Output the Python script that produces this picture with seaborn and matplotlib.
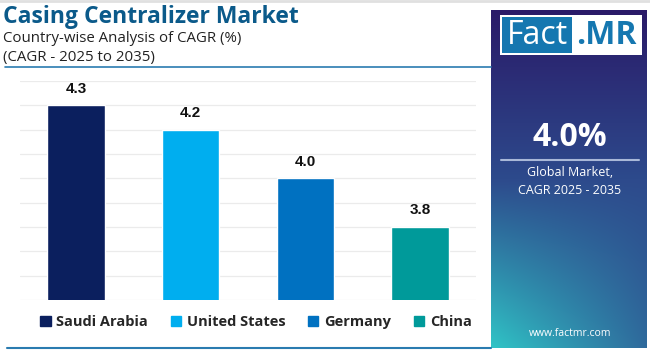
import numpy as np
import matplotlib
matplotlib.use("Agg")
import matplotlib.pyplot as plt
import seaborn as sns
from matplotlib.patches import Rectangle
from matplotlib.lines import Line2D
from matplotlib.colors import to_rgb

countries = ["Saudi Arabia", "United States", "Germany", "China"]
cagr = [4.3, 4.2, 4.0, 3.8]
bar_colors = ["#0b1f5e", "#00aeef", "#0071c1", "#009a9a"]
title = "Casing Centralizer Market"
subtitle1 = "Country-wise Analysis of CAGR (%)"
subtitle2 = "(CAGR - 2025 to 2035)"
global_value = "4.0%"
global_label = "Global Market,\nCAGR 2025 - 2035"
website = "www.factmr.com"

sns.set_theme(style="white")
plt.rcParams["font.family"] = ["Open Sans", "DejaVu Sans"]

W, H = 650, 350
fig = plt.figure(figsize=(6.5, 3.5), dpi=100)
fig.patch.set_facecolor("white")

def fx(px):
    return px / W

def fy(py):
    return 1 - py / H

# main axes
ax = fig.add_axes([fx(20), fy(300), fx(476) - fx(20), fy(81) - fy(300)])
sns.barplot(x=countries, y=cagr, hue=countries, palette=bar_colors, width=0.5,
            legend=False, ax=ax, saturation=1)
ax.set_ylim(3.5, 4.4)
ax.set_xlim(-0.49, 3.49)
ax.set_yticks(np.arange(3.5, 4.41, 0.1))
ax.yaxis.grid(True, color="#ebebeb", linewidth=0.9)
ax.set_axisbelow(True)
for s in ax.spines.values():
    s.set_visible(False)
ax.set_xticks([])
ax.set_yticklabels([])
ax.tick_params(left=False, bottom=False)
ax.set_xlabel("")
ax.set_ylabel("")
for i, v in enumerate(cagr):
    ax.annotate(f"{v:.1f}", (i, v), xytext=(0, 7), textcoords="offset points",
                ha="center", va="bottom", fontsize=11, fontweight="bold", color="#111111",
                family=["Liberation Sans", "DejaVu Sans"])

# titles
fig.text(fx(3), fy(17), title, fontsize=16.5, fontweight="bold", color="#0b5a8a",
         ha="left", va="center")
fig.text(fx(3), fy(38), subtitle1, fontsize=10.8, color="#222222", ha="left", va="center")
fig.text(fx(3), fy(57), subtitle2, fontsize=10.8, color="#222222", ha="left", va="center")
fig.add_artist(Line2D([fx(5), fx(491)], [fy(67), fy(67)], color="#2a7bb0", linewidth=1.2))
fig.add_artist(Line2D([fx(7), fx(491)], [fy(348), fy(348)], color="#2a7bb0", linewidth=1.5))
fig.add_artist(Line2D([0, 1], [fy(1), fy(1)], color="#e0e0e0", linewidth=2))

# legend
handles = [Rectangle((0, 0), 1, 1, color=c) for c in bar_colors]
leg = fig.legend(handles, countries, loc="center", bbox_to_anchor=(fx(256), fy(322)),
                 ncol=4, frameon=False, handlelength=0.7, handleheight=0.7,
                 handletextpad=0.4, columnspacing=1.55,
                 prop={"size": 10.5, "weight": "bold"})

# right panel gradient
pax = fig.add_axes([fx(491), fy(348), fx(647) - fx(491), fy(10) - fy(348)])
ny, nx = 200, 100
yy, xx = np.mgrid[0:1:ny * 1j, 0:1:nx * 1j]
top = np.array(to_rgb("#2a1a68"))
mid = np.array(to_rgb("#2d4a8c"))
bl = np.array(to_rgb("#30c4c6"))
br = np.array(to_rgb("#2f6a9c"))
t = yy
bottom_row = bl[None, None, :] * (1 - xx[..., None]) + br[None, None, :] * xx[..., None]
w1 = np.clip(1 - 2 * t, 0, 1)[..., None]
w3 = np.clip(2 * t - 1, 0, 1)[..., None]
w2 = 1 - w1 - w3
img = top * w1 + mid * w2 + bottom_row * w3
pax.imshow(img, aspect="auto", extent=[0, 1, 1, 0], interpolation="bilinear")
pax.set_xlim(0, 1)
pax.set_ylim(1, 0)
pax.axis("off")

# logo
fig.add_artist(Rectangle((fx(500), fy(55)), fx(642) - fx(500), fy(15) - fy(55),
                         facecolor="white", edgecolor="none"))
fig.add_artist(Rectangle((fx(502), fy(53)), fx(572) - fx(502), fy(17) - fy(53),
                         facecolor="#1577b0", edgecolor="none"))
fig.text(fx(537), fy(36), "Fact", fontsize=23, color="white", ha="center", va="center")
fig.text(fx(606), fy(36), ".MR", fontsize=23, color="#1577b0", fontweight="bold",
         ha="center", va="center")

fig.text(fx(570), fy(137), global_value, fontsize=23, fontweight="bold", color="white",
         ha="center", va="center")
fig.add_artist(Line2D([fx(501), fx(639)], [fy(160), fy(160)], color="#a9b8d8", linewidth=1.5))
fig.text(fx(570), fy(182), global_label, fontsize=9, color="white", ha="center",
         va="center", linespacing=1.5)
fig.text(fx(570), fy(333), website, fontsize=7.5, color="white", ha="center", va="center")

fig.savefig("out.png", dpi=100, facecolor="white")
